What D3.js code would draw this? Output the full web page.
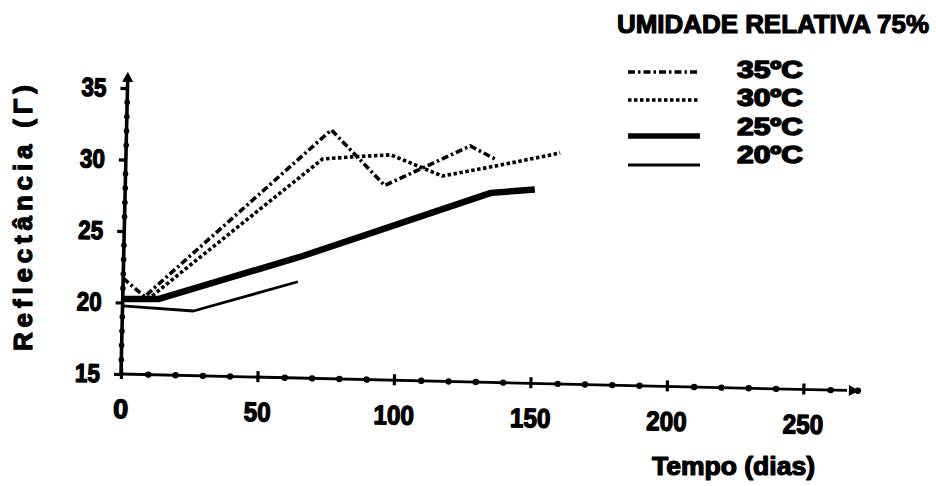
<!DOCTYPE html>
<html>
<head>
<meta charset="utf-8">
<script src="https://cdn.jsdelivr.net/npm/d3@7"></script>
<style>
  html, body { margin: 0; padding: 0; background: #fff; }
  svg { display: block; }
  text { paint-order: stroke fill; stroke-linejoin: round; }
</style>
</head>
<body>
<svg id="chart" width="936" height="486"></svg>
<script>
// Reflectance over storage time at 75% relative humidity, one series per temperature
const seriesNames = ["35ºC", "30ºC", "25ºC", "20ºC"];

const days35 = [0, 8, 75, 95, 126, 136];
const vals35 = [21.7, 20.45, 32.4, 28.6, 31.5, 30.55];

const days30 = [0, 10, 72, 83, 97, 116, 137, 159];
const vals30 = [20.3, 20.4, 30.35, 30.55, 30.75, 29.35, 30.2, 31.15];

const days25 = [0, 13, 65, 134, 150];
const vals25 = [20.25, 20.3, 23.5, 28.25, 28.55];

const days20 = [0, 26, 64];
const vals20 = [19.76, 19.52, 21.73];

const xTickValues = [0, 50, 100, 150, 200, 250];
const yTickValues = [15, 20, 25, 30, 35];

const legendTitle = "UMIDADE RELATIVA 75%";
const xTitle = "Tempo (dias)";
const yTitle = "Reflectância (Γ)";

const font = "'Liberation Sans', Arial, Helvetica, sans-serif";
const ink = "#000";

// heavy, condensed lettering
function heavy(sel, size, weight) {
  return sel
    .style("font-family", font).style("font-weight", "bold").style("font-size", size + "px")
    .attr("fill", ink).attr("stroke", ink).attr("stroke-width", weight);
}

const svg = d3.select("#chart");

const x = d3.scaleLinear().domain([0, 250]).range([0, 682.5]);
const y = d3.scaleLinear().domain([15, 35]).range([0, -286]);

// plot frame sits slightly skewed, as on the printed page
const plot = svg.append("g").attr("transform", "translate(121,374) rotate(1.3)");

// minor dot markers along both axes
const xMinor = d3.range(10, 271, 10).filter(d => d % 50 !== 0);
plot.selectAll("circle.xminor").data(xMinor).join("circle")
  .attr("class", "xminor")
  .attr("cx", d => x(d)).attr("cy", 0).attr("r", 3.2).attr("fill", ink);

const yMinor = d3.range(16, 36, 1).filter(d => d % 5 !== 0);
plot.selectAll("circle.yminor").data(yMinor).join("circle")
  .attr("class", "yminor")
  .attr("cx", 0).attr("cy", d => y(d)).attr("r", 2.8).attr("fill", ink);

// axis lines with arrowheads
plot.append("line")
  .attr("x1", 0).attr("y1", 0).attr("x2", x(266)).attr("y2", 0)
  .attr("stroke", ink).attr("stroke-width", 2.8);
plot.append("polygon")
  .attr("points", [[x(270) + 1, 0], [x(270) - 9, -5.5], [x(270) - 9, 5.5]].map(p => p.join(",")).join(" "))
  .attr("fill", ink);

plot.append("line")
  .attr("x1", 0).attr("y1", 0).attr("x2", 0).attr("y2", y(35.7))
  .attr("stroke", ink).attr("stroke-width", 3.6);
plot.append("polygon")
  .attr("points", [[0, y(36) - 2], [-5.5, y(36) + 8], [5.5, y(36) + 8]].map(p => p.join(",")).join(" "))
  .attr("fill", ink);

// x axis
const gx = plot.append("g")
  .call(d3.axisBottom(x).tickValues(xTickValues).tickSize(0).tickPadding(25));
gx.attr("font-size", null).attr("font-family", null);
gx.select(".domain").remove();
gx.selectAll(".tick line")
  .attr("y1", -6).attr("y2", 5)
  .attr("stroke", ink).attr("stroke-width", 3.2);
heavy(gx.selectAll(".tick text"), 27, 1.3)
  .each(function(d) {
    const n = String(d).length;
    if (n > 1) d3.select(this).attr("textLength", 13.5 * n).attr("lengthAdjust", "spacingAndGlyphs");
  });

// y axis
const gy = plot.append("g")
  .call(d3.axisLeft(y).tickValues(yTickValues).tickSize(7).tickPadding(14));
gy.attr("font-size", null).attr("font-family", null);
gy.select(".domain").remove();
gy.selectAll(".tick line").attr("stroke", ink).attr("stroke-width", 3.2);
heavy(gy.selectAll(".tick text"), 26, 1.3)
  .attr("textLength", 25).attr("lengthAdjust", "spacingAndGlyphs");

// series
const series = [
  { name: seriesNames[0], days: days35, vals: vals35, width: 3.6, dash: "7,3,2.5,3" },
  { name: seriesNames[1], days: days30, vals: vals30, width: 3.6, dash: "3.5,2.5" },
  { name: seriesNames[2], days: days25, vals: vals25, width: 6.5, dash: null },
  { name: seriesNames[3], days: days20, vals: vals20, width: 2.8, dash: null }
];

const line = d3.line().x(d => x(d[0])).y(d => y(d[1]));

plot.selectAll("path.series").data(series).join("path")
  .attr("class", "series")
  .attr("d", s => line(d3.zip(s.days, s.vals)))
  .attr("fill", "none")
  .attr("stroke", ink)
  .attr("stroke-width", s => s.width)
  .attr("stroke-dasharray", s => s.dash)
  .attr("stroke-linejoin", "round");

// axis titles
heavy(svg.append("text"), 25, 1.2)
  .attr("x", 652).attr("y", 475)
  .attr("textLength", 163).attr("lengthAdjust", "spacingAndGlyphs")
  .text(xTitle);

heavy(svg.append("text"), 26, 1.2)
  .attr("transform", "translate(32,218) rotate(-90)")
  .attr("text-anchor", "middle")
  .attr("textLength", 266).attr("lengthAdjust", "spacing")
  .text(yTitle);

// legend
const legend = svg.append("g");
heavy(legend.append("text"), 26, 1.2)
  .attr("x", 617).attr("y", 33)
  .attr("textLength", 312).attr("lengthAdjust", "spacingAndGlyphs")
  .text(legendTitle);

const legendLineY = [72, 100, 136, 165];
const legendTextY = [78, 106, 135, 163];

legend.selectAll("line.key").data(series).join("line")
  .attr("class", "key")
  .attr("x1", 628).attr("x2", 700)
  .attr("y1", (s, i) => legendLineY[i]).attr("y2", (s, i) => legendLineY[i])
  .attr("stroke", ink)
  .attr("stroke-width", s => Math.min(s.width, 5.5))
  .attr("stroke-dasharray", s => s.dash);

heavy(legend.selectAll("text.key").data(series).join("text"), 24, 1.5)
  .attr("class", "key")
  .attr("x", 737).attr("y", (s, i) => legendTextY[i])
  .attr("textLength", 66).attr("lengthAdjust", "spacingAndGlyphs")
  .text(s => s.name);
</script>
</body>
</html>
